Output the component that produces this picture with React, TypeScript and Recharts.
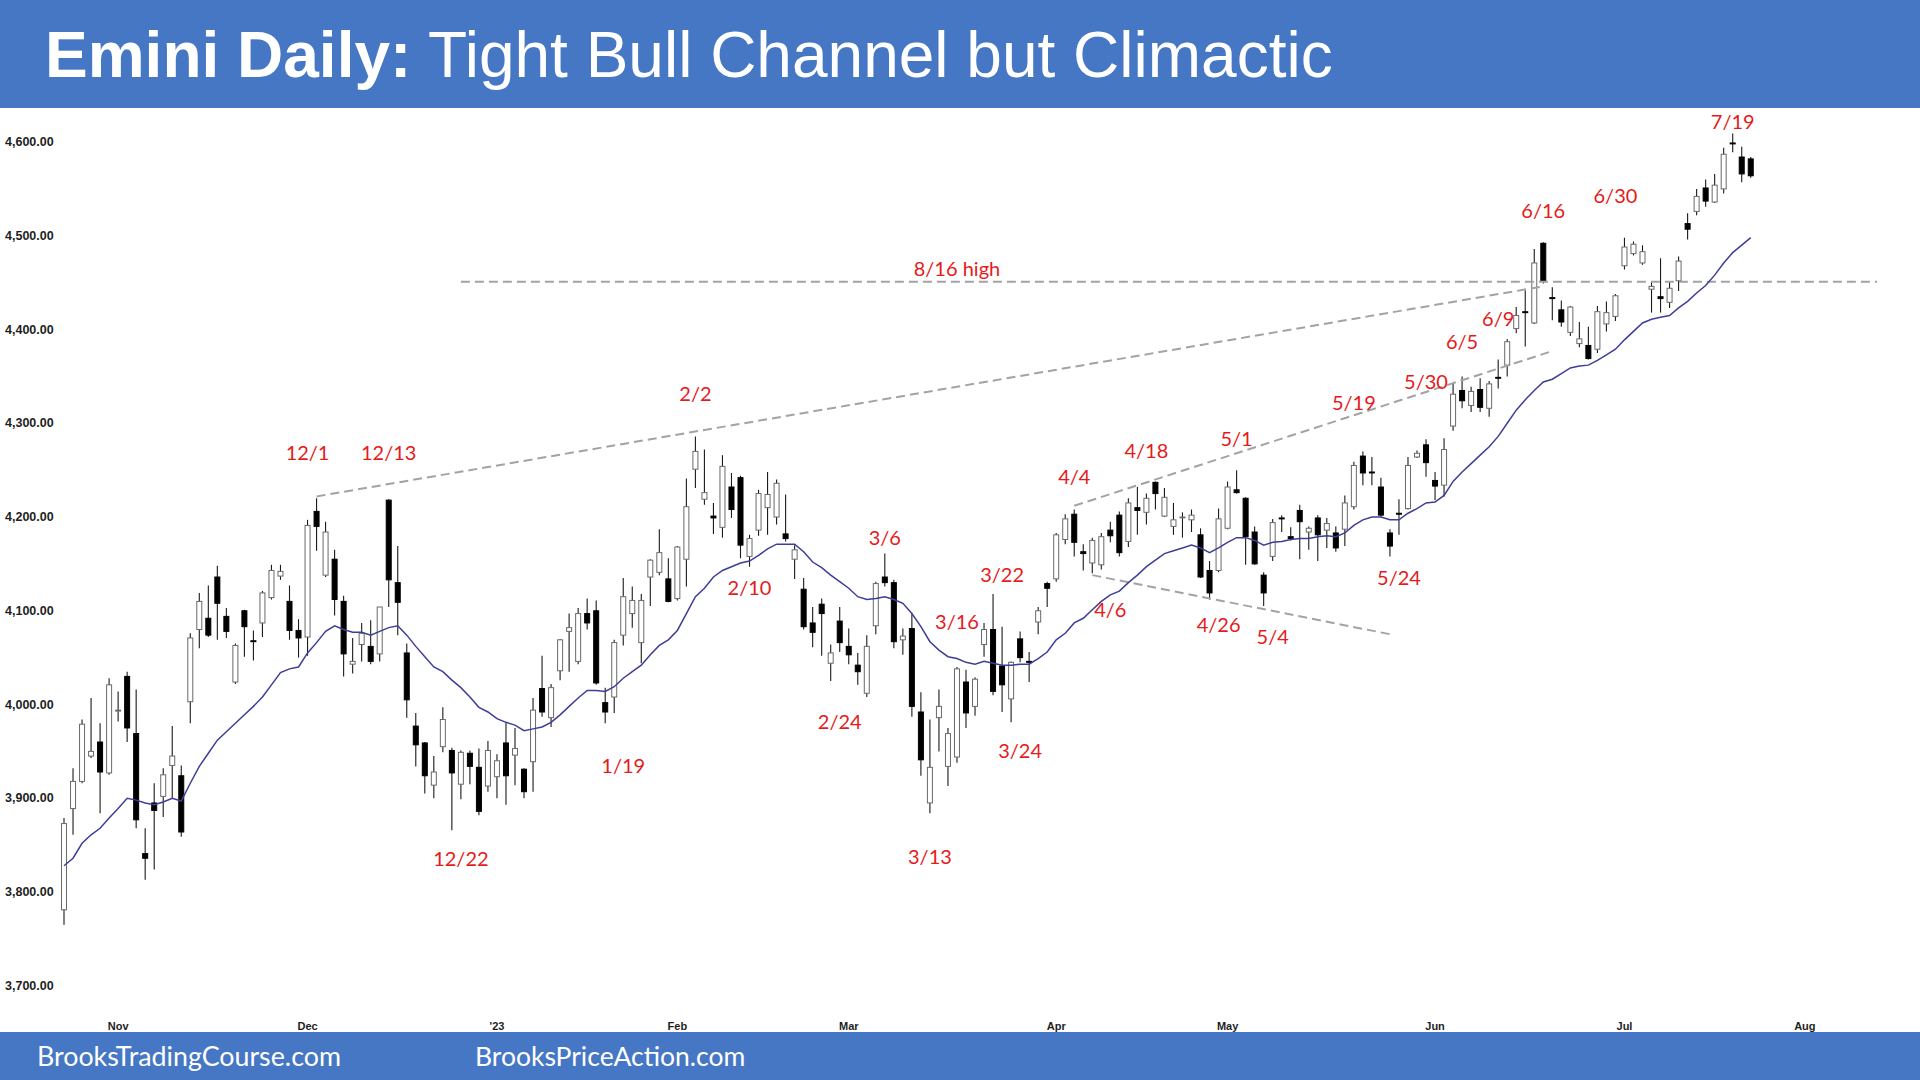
import React from 'react';
import { ComposedChart, Bar, Line, XAxis, YAxis, ReferenceLine, ReferenceDot } from 'recharts';

const dates = [
  '10/21','10/24','10/25','10/26','10/27','10/28','10/31',
  '11/1','11/2','11/3','11/4','11/7','11/8','11/9','11/10','11/11','11/14','11/15','11/16','11/17','11/18','11/21','11/22','11/23','11/25','11/28','11/29','11/30',
  '12/1','12/2','12/5','12/6','12/7','12/8','12/9','12/12','12/13','12/14','12/15','12/16','12/19','12/20','12/21','12/22','12/23','12/27','12/28','12/29','12/30',
  '1/3','1/4','1/5','1/6','1/9','1/10','1/11','1/12','1/13','1/17','1/18','1/19','1/20','1/23','1/24','1/25','1/26','1/27','1/30','1/31',
  '2/1','2/2','2/3','2/6','2/7','2/8','2/9','2/10','2/13','2/14','2/15','2/16','2/17','2/21','2/22','2/23','2/24','2/27','2/28',
  '3/1','3/2','3/3','3/6','3/7','3/8','3/9','3/10','3/13','3/14','3/15','3/16','3/17','3/20','3/21','3/22','3/23','3/24','3/27','3/28','3/29','3/30','3/31',
  '4/3','4/4','4/5','4/6','4/10','4/11','4/12','4/13','4/14','4/17','4/18','4/19','4/20','4/21','4/24','4/25','4/26','4/27','4/28',
  '5/1','5/2','5/3','5/4','5/5','5/8','5/9','5/10','5/11','5/12','5/15','5/16','5/17','5/18','5/19','5/22','5/23','5/24','5/25','5/26','5/29','5/30','5/31',
  '6/1','6/2','6/5','6/6','6/7','6/8','6/9','6/12','6/13','6/14','6/15','6/16','6/20','6/21','6/22','6/23','6/26','6/27','6/28','6/29','6/30',
  '7/3','7/5','7/6','7/7','7/10','7/11','7/12','7/13','7/14','7/17','7/18','7/19','7/20','7/21',
  '7/24','7/25','7/26','7/27','7/28','7/31','8/1','8/2','8/3','8/4','8/7','8/8','8/9','8/10',
];

const opens = [
  3781,3889,3918,3945,3960,3927,3993,4030,3969,3841,
  3895,3902,3935,3924,4003,4080,4092,4136,4094,4024,
  4100,4068,4087,4114,4137,4110,4079,4072,4206,4138,
  4155,4110,4043,4064,4062,4054,4218,4130,4055,3977,
  3959,3914,3955,3951,3915,3948,3933,3913,3923,3959,
  3946,3931,3939,4017,3986,4036,4078,4046,4097,4100,
  4002,4008,4074,4097,4066,4136,4141,4134,4113,4155,
  4251,4219,4201,4189,4232,4242,4158,4186,4210,4200,
  4182,4155,4123,4087,4107,4044,4089,4062,4042,4012,
  4084,4136,4130,4069,4081,3992,3895,3986,3934,3944,
  4024,3998,4064,4080,4041,4006,4070,4046,4088,4129,
  4134,4176,4203,4163,4151,4149,4186,4202,4174,4210,
  4205,4237,4201,4190,4200,4197,4181,4143,4143,4188,
  4229,4220,4184,4138,4158,4199,4179,4207,4184,4199,
  4186,4183,4187,4211,4265,4248,4232,4183,4204,4209,
  4264,4277,4239,4234,4297,4335,4319,4336,4316,4349,
  4362,4401,4419,4407,4492,4434,4421,4397,4385,4383,
  4379,4406,4414,4468,4481,4471,4443,4435,4429,4452,
  4513,4526,4551,4536,4550,4599,4584,4582,
];
const highs = [
  3879,3932,3984,4007,3980,4028,4014,4035,4016,3868,
  3916,3932,3977,3935,4076,4119,4127,4148,4103,4065,
  4101,4079,4121,4149,4149,4127,4091,4197,4220,4195,
  4165,4116,4071,4087,4090,4104,4219,4169,4065,3991,
  3960,3945,3997,3954,3951,3951,3953,3961,3947,3981,
  3975,3932,4007,4052,4022,4070,4097,4103,4113,4111,
  4018,4069,4135,4126,4118,4155,4187,4156,4169,4241,
  4286,4272,4215,4266,4247,4244,4181,4229,4248,4240,
  4224,4170,4135,4104,4113,4064,4104,4081,4055,4074,
  4131,4161,4133,4081,4097,4013,3984,4016,3975,4040,
  4037,4029,4087,4118,4083,4046,4078,4056,4104,4131,
  4183,4203,4208,4171,4178,4183,4195,4206,4220,4232,
  4225,4238,4231,4215,4205,4208,4188,4153,4209,4238,
  4250,4221,4190,4141,4198,4202,4189,4213,4190,4202,
  4199,4190,4223,4259,4270,4264,4242,4187,4219,4264,
  4271,4283,4248,4284,4342,4350,4339,4348,4345,4368,
  4390,4424,4442,4486,4493,4445,4431,4425,4408,4403,
  4425,4430,4438,4498,4494,4490,4451,4476,4451,4478,
  4524,4550,4560,4566,4594,4609,4595,4584,
];
const lows = [
  3765,3861,3916,3943,3884,3925,3982,3960,3868,3813,
  3824,3880,3900,3859,3980,4060,4072,4069,4071,4022,
  4051,4047,4072,4112,4133,4069,4050,4052,4164,4136,
  4095,4030,4033,4046,4043,4046,4104,4074,3986,3934,
  3905,3900,3949,3866,3899,3915,3882,3907,3900,3893,
  3914,3900,3907,3987,3976,4026,4035,4043,4080,4021,
  3980,3991,4063,4082,4044,4105,4138,4109,4111,4126,
  4231,4213,4182,4178,4199,4156,4147,4180,4181,4192,
  4174,4134,4080,4061,4052,4025,4056,4043,4021,4008,
  4075,4126,4060,4053,3987,3924,3884,3950,3913,3938,
  3975,3988,4051,4010,3992,3981,4045,4024,4075,4104,
  4131,4171,4158,4143,4140,4144,4173,4158,4168,4181,
  4192,4208,4200,4181,4178,4184,4135,4112,4141,4187,
  4225,4149,4149,4105,4153,4184,4175,4155,4165,4153,
  4167,4163,4169,4208,4234,4234,4200,4158,4181,4208,
  4263,4243,4218,4222,4292,4316,4312,4312,4307,4337,
  4350,4396,4382,4406,4449,4410,4403,4393,4381,4368,
  4375,4398,4409,4464,4479,4469,4418,4418,4423,4441,
  4496,4522,4531,4535,4545,4589,4557,4562,
];
const closes = [
  3873,3918,3979,3950,3928,4021,3994,3975,3877,3836,
  3887,3925,3945,3864,4071,4110,4074,4108,4078,4063,
  4083,4067,4119,4143,4142,4079,4071,4191,4190,4184,
  4112,4054,4046,4076,4046,4104,4133,4109,4005,3957,
  3924,3928,3984,3927,3949,3934,3886,3951,3940,3924,
  3953,3907,3994,3992,4018,4069,4082,4097,4087,4023,
  3992,4066,4115,4111,4111,4154,4162,4110,4168,4211,
  4270,4226,4199,4254,4208,4170,4177,4225,4224,4236,
  4177,4165,4083,4077,4097,4055,4066,4053,4035,4062,
  4129,4130,4067,4073,3998,3941,3933,3998,3969,4038,
  3991,4027,4080,4014,4021,4045,4050,4045,4100,4124,
  4181,4198,4173,4161,4175,4179,4180,4162,4215,4207,
  4220,4225,4221,4197,4200,4202,4136,4119,4198,4232,
  4226,4179,4150,4119,4194,4198,4177,4195,4188,4181,
  4193,4167,4215,4255,4247,4247,4202,4169,4203,4255,
  4268,4258,4233,4272,4331,4324,4334,4317,4342,4348,
  4387,4415,4418,4471,4452,4433,4408,4424,4390,4369,
  4419,4418,4436,4488,4491,4483,4446,4433,4444,4473,
  4507,4542,4537,4554,4587,4598,4566,4564,
];
const ema20 = [
  3828,3836,3852,3861,3868,3879,3889,3900,3898,3895,
  3893,3896,3900,3897,3916,3934,3948,3962,3971,3980,
  3989,3998,4008,4021,4034,4038,4040,4055,4066,4078,
  4084,4080,4077,4077,4074,4078,4082,4084,4074,4062,
  4051,4040,4035,4026,4018,4008,3997,3992,3985,3981,
  3978,3972,3974,3976,3981,3989,3998,4007,4015,4015,
  4014,4019,4028,4035,4042,4053,4063,4069,4079,4097,
  4115,4124,4136,4143,4147,4151,4153,4159,4166,4171,
  4171,4171,4163,4152,4146,4138,4131,4124,4115,4112,
  4113,4115,4112,4108,4097,4083,4067,4058,4051,4049,
  4045,4043,4046,4044,4042,4042,4043,4043,4049,4056,
  4069,4076,4087,4092,4101,4110,4117,4121,4130,4138,
  4147,4154,4161,4164,4167,4170,4167,4162,4167,4173,
  4178,4178,4175,4170,4173,4174,4176,4177,4177,4179,
  4180,4179,4183,4191,4197,4200,4200,4197,4197,4204,
  4209,4215,4216,4223,4238,4248,4257,4266,4275,4286,
  4300,4314,4325,4335,4344,4347,4353,4359,4361,4362,
  4367,4373,4379,4389,4398,4407,4411,4413,4415,4423,
  4430,4439,4447,4458,4471,4482,4490,4498,
];

const yTicks = [3700, 3800, 3900, 4000, 4100, 4200, 4300, 4400, 4500, 4600];
const monthTicks: Record<string, string> = {
  '10/31': 'Nov', '11/30': 'Dec', '12/30': "'23", '1/31': 'Feb', '2/28': 'Mar',
  '3/31': 'Apr', '4/28': 'May', '5/31': 'Jun', '6/30': 'Jul', '7/31': 'Aug',
};

const annotations = [
  { text: '12/1', x: '11/30', y: 4268 },
  { text: '12/13', x: '12/13', y: 4268 },
  { text: '2/2', x: '2/2', y: 4331 },
  { text: '2/10', x: '2/10', y: 4124 },
  { text: '1/19', x: '1/23', y: 3935 },
  { text: '12/22', x: '12/23', y: 3835 },
  { text: '3/6', x: '3/6', y: 4178 },
  { text: '2/24', x: '2/27', y: 3981 },
  { text: '3/13', x: '3/13', y: 3837 },
  { text: '3/16', x: '3/16', y: 4088 },
  { text: '3/22', x: '3/23', y: 4138 },
  { text: '3/24', x: '3/27', y: 3951 },
  { text: '4/4', x: '4/4', y: 4243 },
  { text: '4/18', x: '4/17', y: 4270 },
  { text: '4/6', x: '4/11', y: 4101 },
  { text: '5/1', x: '5/1', y: 4283 },
  { text: '4/26', x: '4/27', y: 4085 },
  { text: '5/4', x: '5/5', y: 4072 },
  { text: '5/19', x: '5/18', y: 4322 },
  { text: '5/24', x: '5/25', y: 4135 },
  { text: '5/30', x: '5/30', y: 4344 },
  { text: '6/5', x: '6/5', y: 4387 },
  { text: '6/9', x: '6/9', y: 4411 },
  { text: '6/16', x: '6/16', y: 4527 },
  { text: '6/30', x: '6/29', y: 4542 },
  { text: '7/19', x: '7/19', y: 4621 },
  { text: '8/16 high', x: '3/16', y: 4465 },
];

const trendLines = [
  { x1: '12/1', y1: 4222, x2: '6/16', y2: 4446 },
  { x1: '12/23', y1: 4451, x2: '8/10', y2: 4451 },
  { x1: '4/4', y1: 4212, x2: '6/20', y2: 4377 },
  { x1: '4/6', y1: 4138, x2: '5/24', y2: 4075 },
];

const BLUE = '#4677C4';
const RED = '#E51A1A';

const data = dates.map((d, i) =>
  i < opens.length
    ? { d, range: [lows[i], highs[i]], o: opens[i], h: highs[i], l: lows[i], c: closes[i], ema: ema20[i] }
    : { d, range: null, ema: null }
);

const Candle = (props: any) => {
  const { x, y, width, height, payload } = props;
  if (!payload || payload.o == null || height == null) return <g />;
  const { o, h, l, c } = payload;
  const top = height >= 0 ? y : y + height;
  const hh = Math.abs(height);
  const ratio = hh / (h - l);
  const yO = top + (h - o) * ratio;
  const yC = top + (h - c) * ratio;
  const bTop = Math.min(yO, yC);
  const bBot = Math.max(yO, yC);
  const bull = c >= o;
  const cx = x + width / 2;
  const bw = 5;
  return (
    <g>
      <line x1={cx} x2={cx} y1={top} y2={top + hh} stroke="#1a1a1a" strokeWidth={1.1} />
      <rect
        x={cx - bw / 2}
        y={bTop}
        width={bw}
        height={Math.max(bBot - bTop, 0.8)}
        fill={bull ? '#ffffff' : '#000000'}
        stroke={bull ? '#6a6a6a' : '#000000'}
        strokeWidth={1}
      />
    </g>
  );
};

const fmt = (v: number) => v.toLocaleString('en-US', { minimumFractionDigits: 2, maximumFractionDigits: 2 });

const YTick = (props: any) => (
  <text x={5} y={props.y} dy={4} fontSize={12.5} fontWeight="bold" fontFamily="'Liberation Sans', Arial, sans-serif" fill="#1e1e1e">
    {fmt(props.payload.value)}
  </text>
);

const XTick = (props: any) => {
  const lab = monthTicks[props.payload.value];
  if (!lab) return <g />;
  return (
    <text x={props.x} y={1030} textAnchor="middle" fontSize={11} fontWeight="bold" fontFamily="'Liberation Sans Narrow', 'Arial Narrow', 'Liberation Sans', Arial, sans-serif" fill="#1e1e1e">
      {lab}
    </text>
  );
};

export default function App() {
  return (
    <div style={{ position: 'absolute', left: 0, top: 0, width: 1920, height: 1080, background: '#fff', overflow: 'hidden' }}>
      <div style={{ position: 'absolute', left: 0, top: 0 }}>
        <ComposedChart width={1920} height={1080} data={data} margin={{ top: 113.9, right: 38.46, bottom: 48.25, left: 0 }}>
          <XAxis dataKey="d" interval={0} tick={<XTick />} axisLine={false} tickLine={false} height={16} />
          <YAxis domain={[3668, 4630]} ticks={yTicks} tick={<YTick />} axisLine={false} tickLine={false} width={59.5} allowDataOverflow />
          {trendLines.map((t, i) => (
            <ReferenceLine
              key={'t' + i}
              segment={[{ x: t.x1, y: t.y1 }, { x: t.x2, y: t.y2 }]}
              stroke="#a3a3a3"
              strokeWidth={2}
              strokeDasharray="9 5"
              ifOverflow="visible"
            />
          ))}
          <Line dataKey="ema" stroke="#3E3E96" strokeWidth={1.5} dot={false} isAnimationActive={false} connectNulls={false} />
          <Bar dataKey="range" barSize={5} shape={(p: any) => <Candle {...p} />} isAnimationActive={false} />
          {annotations.map((a, i) => (
            <ReferenceDot
              key={'a' + i}
              x={a.x}
              y={a.y}
              r={1}
              fill="none"
              stroke="none"
              ifOverflow="visible"
              label={{ value: a.text, position: 'center', fill: RED, fontSize: 20, fontFamily: "Lato, 'Open Sans', sans-serif" }}
            />
          ))}
        </ComposedChart>
      </div>
      <div style={{ position: 'absolute', left: 0, top: 0, width: 1920, height: 108, background: BLUE }}>
        <div style={{ position: 'absolute', left: 45, top: 23, fontFamily: "'Liberation Sans', Arial, sans-serif", fontSize: 64, lineHeight: '64px', color: '#fff', whiteSpace: 'nowrap' }}>
          <span style={{ fontWeight: 'bold' }}>Emini Daily:</span> Tight Bull Channel but Climactic
        </div>
      </div>
      <div style={{ position: 'absolute', left: 0, top: 1032, width: 1920, height: 48, background: BLUE }}>
        <div style={{ position: 'absolute', left: 37, top: 0, fontFamily: "Lato, 'Open Sans', sans-serif", fontSize: 26.8, lineHeight: '48px', color: '#fff', whiteSpace: 'nowrap' }}>
          BrooksTradingCourse.com
        </div>
        <div style={{ position: 'absolute', left: 475, top: 0, fontFamily: "Lato, 'Open Sans', sans-serif", fontSize: 26.5, lineHeight: '48px', color: '#fff', whiteSpace: 'nowrap' }}>
          BrooksPriceAction.com
        </div>
      </div>
    </div>
  );
}
